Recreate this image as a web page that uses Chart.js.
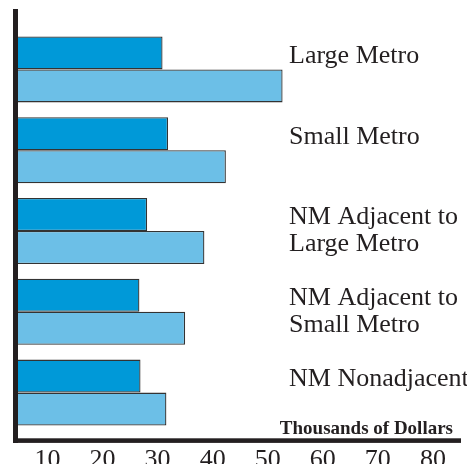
<!DOCTYPE html>
<html>
<head>
<meta charset="utf-8">
<script src="https://cdn.jsdelivr.net/npm/chart.js@4/dist/chart.umd.min.js"></script>
<style>
    html, body { margin: 0; padding: 0; background: #fff; }
    #wrap { width: 467px; height: 464px; }
</style>
</head>
<body>
<div id="wrap"><canvas id="myChart"></canvas></div>
<script>
// region labels, single line ones get an empty 2nd line so they sit a bit higher
const regions = [
    ['Large Metro', ''],
    ['Small Metro', ''],
    ['NM Adjacent to', 'Large Metro'],
    ['NM Adjacent to', 'Small Metro'],
    ['NM Nonadjacent', '']
];
const darkValues = [30.9, 31.9, 28.1, 26.7, 26.9];
const lightValues = [52.7, 42.4, 38.5, 35.0, 31.6];
const xTicks = [10, 20, 30, 40, 50, 60, 70, 80];
const xTitle = 'Thousands of Dollars';

const ink = '#231f20';

// thick axis lines + the units text above the bottom axis
const axisLines = {
    id: 'axisLines',
    afterDatasetsDraw(chart) {
        const ctx = chart.ctx;
        const a = chart.chartArea;
        ctx.save();
        ctx.fillStyle = ink;
        ctx.fillRect(a.left - 5, a.top - 20, 5, a.bottom - a.top + 30);
        ctx.fillRect(a.left - 5, a.bottom + 5.3, a.right - a.left + 5, 4.6);
        ctx.font = 'bold 19px "Liberation Serif"';
        ctx.textAlign = 'right';
        ctx.textBaseline = 'alphabetic';
        ctx.fillText(xTitle, a.right - 8, a.bottom + 1);
        ctx.restore();
    }
};

new Chart('myChart', {
    type: 'bar',
    data: {
        labels: regions,
        datasets: [{
            data: darkValues,
            backgroundColor: '#0099d8',
            borderColor: '#333333',
            borderWidth: 1.3
        }, {
            data: lightValues,
            backgroundColor: '#6cbfe7',
            borderColor: '#333333',
            borderWidth: 1.3
        }]
    },
    options: {
        indexAxis: 'y',
        responsive: true,
        maintainAspectRatio: false,
        animation: false,
        layout: { padding: { left: 18, top: 29, right: 6, bottom: 0 } },
        datasets: {
            bar: { categoryPercentage: 0.817, barPercentage: 1.0 }
        },
        plugins: {
            legend: { display: false },
            tooltip: { enabled: false }
        },
        scales: {
            x: {
                type: 'linear',
                min: 4.65,
                max: 85.1,
                grid: { display: false },
                border: { display: false },
                afterBuildTicks: (s) => { s.ticks = xTicks.map(v => ({ value: v })); },
                afterFit: (s) => { s.height = 31; },
                ticks: {
                    padding: 4,
                    color: ink,
                    font: { family: '"Liberation Serif"', size: 26 }
                }
            },
            y: {
                type: 'category',
                grid: { display: false },
                border: { display: false },
                // the big tick padding pushes the labels to the right,
                // but it should not eat vertical space
                afterFit: (s) => {
                    s.width = 0;
                    s.paddingTop = 0;
                    s.paddingBottom = 0;
                },
                ticks: {
                    mirror: true,
                    padding: 271,
                    color: ink,
                    font: { family: '"Liberation Serif"', size: 26, lineHeight: 1.03 }
                }
            }
        }
    },
    plugins: [axisLines]
});
</script>
</body>
</html>
